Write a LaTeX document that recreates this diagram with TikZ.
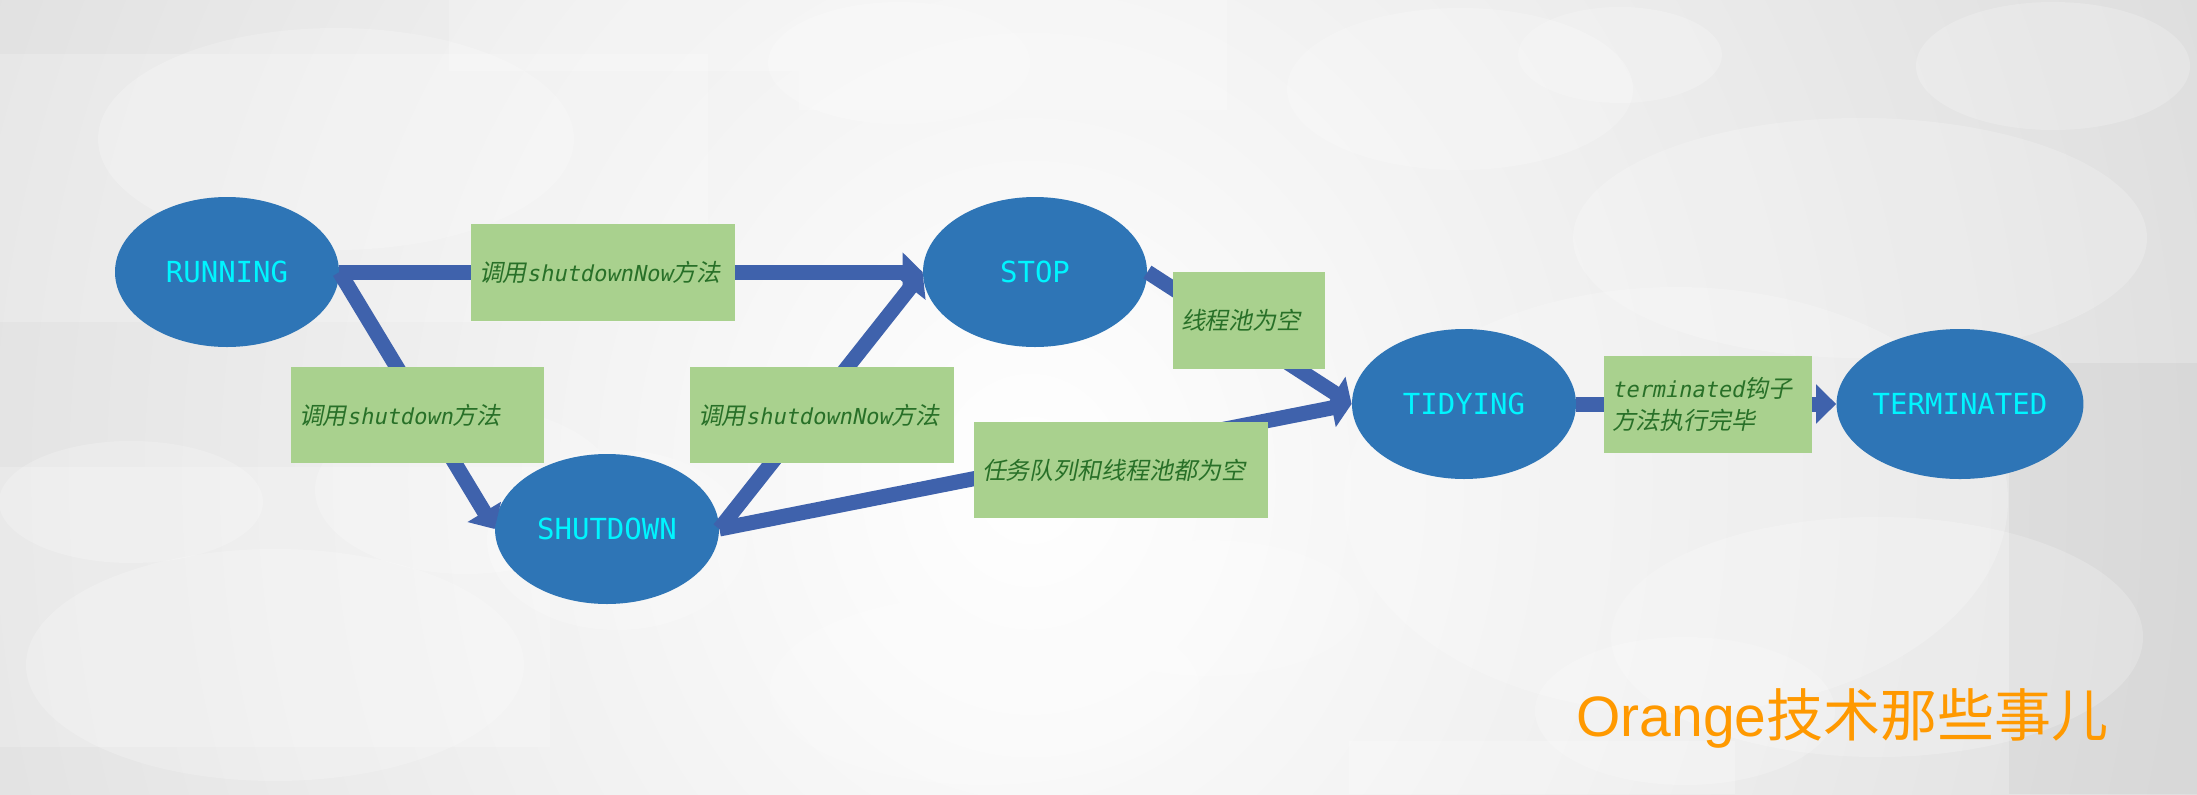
\documentclass[tikz,border=0pt]{standalone}
\usepackage{fontspec}
\setmainfont{DejaVu Sans Mono}
\newfontfamily\monofont{DejaVu Sans Mono}
\newfontfamily\monoit[FakeSlant=0.2]{DejaVu Sans Mono}
\newfontfamily\cjkit[FakeSlant=0.2,Scale=1.09]{Noto Sans CJK SC}
\newfontfamily\cjkup{Noto Sans CJK SC}
\newfontfamily\arialfont{Liberation Sans}
\newcommand\zhit[1]{{\cjkit #1}}
\usetikzlibrary{shapes.geometric,arrows.meta}
\definecolor{nodeblue}{RGB}{46,117,182}
\definecolor{nodecyan}{RGB}{0,245,255}
\definecolor{arrowblue}{RGB}{63,98,172}
\definecolor{boxgreen}{RGB}{169,209,142}
\definecolor{textgreen}{RGB}{40,112,40}
\definecolor{wmorange}{RGB}{255,153,0}
\definecolor{bgbase}{RGB}{194,194,194}
\tikzset{
  ell/.style={ellipse, fill=nodeblue, minimum width=112pt, minimum height=75pt, inner sep=0pt,
    text=nodecyan, font=\monofont\fontsize{14.5}{16}\selectfont},
  lbox/.style={rectangle, fill=boxgreen, inner xsep=4pt, inner ysep=0pt, align=left,
    text=textgreen, font=\monoit\fontsize{11}{16}\selectfont},
  arr/.style={draw=arrowblue, line width=7.5pt, -{Triangle[length=10pt,width=19pt]}},
  deco/.style={fill=white, opacity=0.2},
  decod/.style={fill=black, opacity=0.03}
}
\begin{document}
\begin{tikzpicture}[x=0.5pt,y=-0.5pt]
\useasboundingbox (0,0) rectangle (2197,794);
% background
\begin{scope}
\clip (0,0) rectangle (2197,794);
\fill[bgbase] (0,0) rectangle (2197,794);
\shade[inner color=white, outer color=bgbase] (1030,480) ellipse [x radius=2300, y radius=2600];
% rectangles
\fill[deco] (0,54) rectangle (708,322);
\fill[deco] (449,0) rectangle (799,71);
\fill[deco] (0,467) rectangle (550,747);
\fill[deco] (1349,741) rectangle (1735,794);
\fill[deco] (799,0) rectangle (1227,110);
\fill[decod] (2009,363) rectangle (2197,794);
% ellipses
\fill[deco] (336,139) ellipse [x radius=238, y radius=111];
\fill[deco] (899,63) ellipse [x radius=131, y radius=61];
\fill[deco] (1460,89) ellipse [x radius=173, y radius=81];
\fill[deco] (1620,55) ellipse [x radius=102, y radius=48];
\fill[deco] (2053,66) ellipse [x radius=137, y radius=64];
\fill[deco] (1860,238) ellipse [x radius=287, y radius=120];
\fill[deco] (131,502) ellipse [x radius=132, y radius=61];
\fill[deco] (275,665) ellipse [x radius=249, y radius=116];
\fill[deco] (466,490) ellipse [x radius=151, y radius=84];
\fill[deco] (617,540) ellipse [x radius=130, y radius=90];
\fill[deco] (985,690) ellipse [x radius=215, y radius=95];
\fill[deco] (1208,608) ellipse [x radius=151, y radius=68];
\fill[deco] (1877,637) ellipse [x radius=266, y radius=120];
\fill[deco] (1685,711) ellipse [x radius=150, y radius=74];
\fill[deco] (1676,500) ellipse [x radius=332, y radius=213];
\end{scope}
% state nodes
\node[ell] (run)  at (227,272)  {RUNNING};
\node[ell] (stop) at (1035,272) {STOP};
\node[ell] (shut) at (607,529)  {SHUTDOWN};
\node[ell] (tidy) at (1464,404) {TIDYING};
\node[ell] (term) at (1960,404) {TERMINATED};
% connectors
\draw[arr] (run.east) -- (stop.west);
\draw[arr] (run.east) -- (shut.west);
\draw[arr] (shut.east) -- (stop.west);
\draw[arr] (shut.east) -- (tidy.west);
\draw[arr] (stop.east) -- (tidy.west);
\draw[arr] (tidy.east) -- (term.west);
% labels
\node[lbox, text width=124pt, minimum height=48.5pt] (l1) at (603,272.5) {\zhit{调用}shutdownNow\zhit{方法}};
\node[lbox, text width=118.5pt, minimum height=48pt] (l2) at (417.5,415) {\zhit{调用}shutdown\zhit{方法}};
\node[lbox, text width=124pt, minimum height=48pt] (l3) at (822,415) {\zhit{调用}shutdownNow\zhit{方法}};
\node[lbox, text width=139pt, minimum height=48pt] (l4) at (1121,470) {\zhit{任务队列和线程池都为空}};
\node[lbox, text width=68pt, minimum height=48.5pt] (l5) at (1249,320.5) {\zhit{线程池为空}};
\node[lbox, text width=96pt, minimum height=48.5pt] (l6) at (1708,404.5) {terminated\zhit{钩子}\\\zhit{方法执行完毕}};
% watermark
\node[anchor=base west, inner sep=0pt, text=wmorange] (wm) at (1576,736)
  {\arialfont\fontsize{28.5}{30}\selectfont Orange{\cjkup 技术那些事儿}};
\end{tikzpicture}
\end{document}
